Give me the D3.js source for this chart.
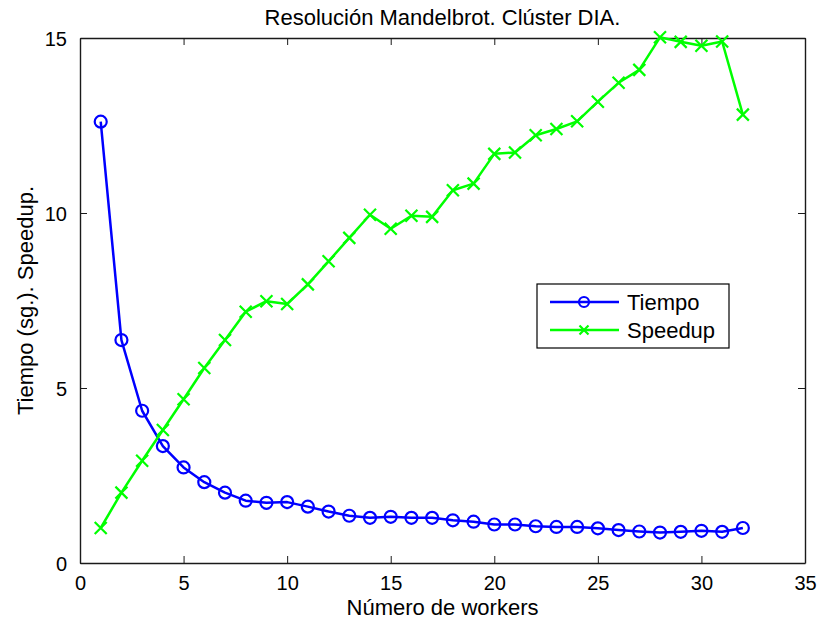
<!DOCTYPE html>
<html>
<head>
<meta charset="utf-8">
<script src="https://cdn.jsdelivr.net/npm/d3@7/dist/d3.min.js"></script>
<style>
  html, body { margin: 0; padding: 0; background: #fff; }
  svg { display: block; font-family: "Liberation Sans", Arial, Helvetica, sans-serif; }
</style>
</head>
<body>
<svg id="chart" width="822" height="625"></svg>
<script>
// Number of workers used in each run
const workers = d3.range(1, 33);

// Execution time in seconds for each worker count
const tiempo = [12.61, 6.37, 4.35, 3.34, 2.73, 2.31, 2.01, 1.78, 1.72, 1.74,
                1.61, 1.47, 1.35, 1.29, 1.32, 1.29, 1.29, 1.22, 1.18, 1.10,
                1.10, 1.05, 1.03, 1.03, 0.99, 0.94, 0.90, 0.87, 0.89, 0.92,
                0.89, 1.00];

// Speedup relative to a single worker
const speedup = [1.00, 2.01, 2.92, 3.80, 4.68, 5.57, 6.37, 7.18, 7.48, 7.40,
                 7.96, 8.62, 9.29, 9.95, 9.55, 9.92, 9.89, 10.65, 10.84, 11.69,
                 11.73, 12.22, 12.40, 12.62, 13.18, 13.72, 14.09, 15.02, 14.89, 14.78,
                 14.90, 12.81];

const xTicks = [0, 5, 10, 15, 20, 25, 30, 35];
const yTicks = [0, 5, 10, 15];

const seriesNames = ["Tiempo", "Speedup"];
const seriesColors = ["#0000ff", "#00ff00"];

const titleText = "Resolución Mandelbrot. Clúster DIA.";
const xLabelText = "Número de workers";
const yLabelText = "Tiempo (sg.). Speedup.";

const svg = d3.select("#chart");
const L = 80, R = 805, T = 38, B = 563;

const x = d3.scaleLinear().domain([0, 35]).range([L, R]);
const y = d3.scaleLinear().domain([0, 15]).range([B, T]);

// Axes (MATLAB-style inward ticks on all four sides)
const tickLen = 7;
const axBottom = svg.append("g").attr("transform", `translate(0,${B})`)
  .call(d3.axisBottom(x).tickValues(xTicks).tickSizeInner(-tickLen).tickSizeOuter(0).tickPadding(tickLen + 6));
const axTop = svg.append("g").attr("transform", `translate(0,${T})`)
  .call(d3.axisTop(x).tickValues(xTicks).tickSizeInner(-tickLen).tickSizeOuter(0).tickFormat(""));
const axLeft = svg.append("g").attr("transform", `translate(${L},0)`)
  .call(d3.axisLeft(y).tickValues(yTicks).tickSizeInner(-tickLen).tickSizeOuter(0).tickPadding(tickLen + 6));
const axRight = svg.append("g").attr("transform", `translate(${R},0)`)
  .call(d3.axisRight(y).tickValues(yTicks).tickSizeInner(-tickLen).tickSizeOuter(0).tickFormat(""));

[axBottom, axTop, axLeft, axRight].forEach(g => {
  g.select(".domain").attr("stroke", "#1a1a1a").attr("stroke-width", 1.4);
  g.selectAll(".tick line").attr("stroke", "#1a1a1a").attr("stroke-width", 1);
  g.selectAll("text").attr("font-size", 20).attr("fill", "#000")
    .attr("font-family", "Liberation Sans, Arial, sans-serif");
});
axBottom.selectAll("text").attr("dy", "0.71em");
axLeft.selectAll("text").attr("dy", "0.36em");

// Series lines
const line = d3.line().x((d, i) => x(workers[i])).y(d => y(d));

svg.append("path").datum(tiempo)
  .attr("d", line).attr("fill", "none")
  .attr("stroke", seriesColors[0]).attr("stroke-width", 2.5).attr("stroke-linejoin", "round");

svg.append("path").datum(speedup)
  .attr("d", line).attr("fill", "none")
  .attr("stroke", seriesColors[1]).attr("stroke-width", 2.5).attr("stroke-linejoin", "round");

// Circle markers for time
svg.append("g").selectAll("circle").data(tiempo).join("circle")
  .attr("cx", (d, i) => x(workers[i])).attr("cy", d => y(d)).attr("r", 6)
  .attr("fill", "none").attr("stroke", seriesColors[0]).attr("stroke-width", 2.2);

// Cross markers for speedup
const xm = 6;
const crossPath = (cx, cy) => `M${cx - xm},${cy - xm}L${cx + xm},${cy + xm}M${cx - xm},${cy + xm}L${cx + xm},${cy - xm}`;
svg.append("g").selectAll("path").data(speedup).join("path")
  .attr("d", (d, i) => crossPath(x(workers[i]), y(d)))
  .attr("stroke", seriesColors[1]).attr("stroke-width", 2.2).attr("fill", "none");

// Title and axis labels
svg.append("text").attr("x", (L + R) / 2).attr("y", 25)
  .attr("text-anchor", "middle").attr("font-size", 22).text(titleText);
svg.append("text").attr("x", (L + R) / 2).attr("y", 615)
  .attr("text-anchor", "middle").attr("font-size", 22).text(xLabelText);
svg.append("text").attr("transform", `translate(33,${(T + B) / 2}) rotate(-90)`)
  .attr("text-anchor", "middle").attr("font-size", 22).text(yLabelText);

// Legend
const lg = svg.append("g");
lg.append("rect").attr("x", 537).attr("y", 284).attr("width", 192).attr("height", 64)
  .attr("fill", "#fff").attr("stroke", "#000").attr("stroke-width", 1.2);
const rowsY = [302, 330];
seriesNames.forEach((name, k) => {
  const ry = rowsY[k];
  lg.append("line").attr("x1", 550).attr("x2", 619).attr("y1", ry).attr("y2", ry)
    .attr("stroke", seriesColors[k]).attr("stroke-width", 2.5);
  if (k === 0) {
    lg.append("circle").attr("cx", 584).attr("cy", ry).attr("r", 5)
      .attr("fill", "none").attr("stroke", seriesColors[k]).attr("stroke-width", 2.2);
  } else {
    const s = 4.5;
    lg.append("path").attr("d", `M${584 - s},${ry - s}L${584 + s},${ry + s}M${584 - s},${ry + s}L${584 + s},${ry - s}`)
      .attr("stroke", seriesColors[k]).attr("stroke-width", 2.2);
  }
  lg.append("text").attr("x", 627).attr("y", ry).attr("dy", "0.36em")
    .attr("font-size", 22).text(name);
});
</script>
</body>
</html>
